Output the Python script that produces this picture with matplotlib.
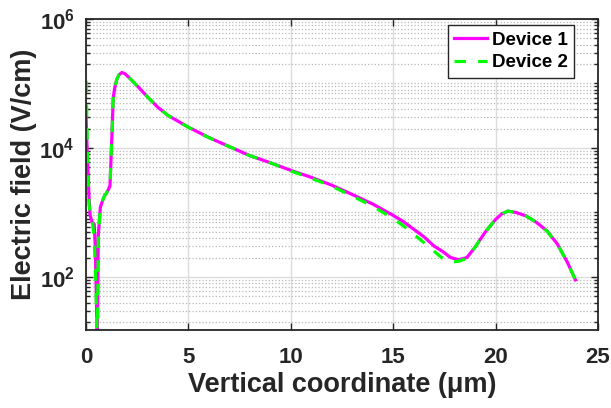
import matplotlib
matplotlib.use('Agg')
import matplotlib.pyplot as plt
from matplotlib.ticker import FixedLocator, NullFormatter

plt.rcParams['font.family'] = ['Liberation Sans', 'DejaVu Sans']
plt.rcParams['font.weight'] = 'bold'
plt.rcParams['mathtext.fontset'] = 'custom'
plt.rcParams['mathtext.rm'] = 'Liberation Sans:bold'
plt.rcParams['mathtext.bf'] = 'Liberation Sans:bold'
plt.rcParams['mathtext.it'] = 'Liberation Sans:bold'

# Device 1 (solid magenta): position in um, field in V/cm
x_dev1 = [0.0, 0.05, 0.1, 0.15, 0.2, 0.3, 0.4, 0.45, 0.5, 0.55, 0.6, 0.7, 0.8, 0.9, 1.0,
          1.1, 1.17, 1.25, 1.33, 1.4, 1.5, 1.6, 1.75, 1.9, 2.2, 2.6, 3.0, 3.5, 4.0, 5.0,
          6.0, 7.0, 8.0, 9.0, 10.0, 11.0, 12.0, 13.0, 14.0, 15.0, 15.5, 16.0, 16.5, 17.0,
          17.4, 17.8, 18.2, 18.6, 19.0, 19.5, 20.0, 20.3, 20.6, 21.0, 21.5, 22.0, 22.5,
          23.0, 23.5, 23.9]
e_dev1 = [3.2e4, 1.0e4, 4.0e3, 1.6e3, 9.0e2, 7.0e2, 6.6e2, 3.0e2, 6.0e1, 1.0e1, 4.5e2, 1.2e3,
          1.5e3, 1.8e3, 2.0e3, 2.3e3, 2.6e3, 1.2e4, 6.0e4, 8.5e4, 1.15e5, 1.35e5, 1.48e5,
          1.42e5, 1.15e5, 8.5e4, 6.2e4, 4.3e4, 3.2e4, 2.1e4, 1.45e4, 1.05e4, 7.6e3, 5.9e3,
          4.5e3, 3.5e3, 2.65e3, 1.9e3, 1.35e3, 9.0e2, 7.2e2, 5.5e2, 4.2e2, 3.0e2, 2.5e2,
          2.0e2, 1.85e2, 2.0e2, 2.9e2, 5.0e2, 7.8e2, 9.5e2, 1.05e3, 1.0e3, 8.8e2, 7.0e2,
          5.2e2, 3.3e2, 1.7e2, 9.0e1]

# Device 2 (dashed green)
x_dev2 = [0.0, 0.05, 0.1, 0.15, 0.2, 0.3, 0.35, 0.4, 0.45, 0.5, 0.55, 0.6, 0.7, 0.8, 0.9,
          1.0, 1.1, 1.17, 1.25, 1.33, 1.4, 1.5, 1.6, 1.75, 1.9, 2.2, 2.6, 3.0, 3.5, 4.0,
          5.0, 6.0, 7.0, 8.0, 9.0, 10.0, 11.0, 12.0, 13.0, 14.0, 15.0, 15.5, 16.0, 16.5,
          17.0, 17.4, 17.8, 18.2, 18.6, 19.0, 19.5, 20.0, 20.3, 20.6, 21.0, 21.5, 22.0,
          22.5, 23.0, 23.5, 23.9]
e_dev2 = [1.1e5, 2.0e4, 3.0e3, 1.3e3, 1.0e3, 8.0e2, 5.5e2, 4.0e2, 1.5e2, 4.0e1, 1.0e1,
          4.0e2, 1.2e3, 1.5e3, 1.8e3, 2.0e3, 2.3e3, 2.6e3, 1.2e4, 6.0e4, 8.5e4, 1.15e5,
          1.35e5, 1.48e5, 1.42e5, 1.15e5, 8.5e4, 6.2e4, 4.3e4, 3.2e4, 2.1e4, 1.45e4,
          1.05e4, 7.6e3, 5.9e3, 4.4e3, 3.4e3, 2.55e3, 1.8e3, 1.25e3, 8.0e2, 6.2e2, 4.6e2,
          3.4e2, 2.5e2, 1.95e2, 1.7e2, 1.75e2, 1.95e2, 2.9e2, 5.0e2, 7.8e2, 9.5e2, 1.05e3,
          1.0e3, 8.8e2, 7.0e2, 5.2e2, 3.3e2, 1.7e2, 9.0e1]

labels = ['Device 1', 'Device 2']
x_ticks = [0, 5, 10, 15, 20, 25]
y_ticks = [1e2, 1e4, 1e6]
y_ticklabels = [r'$10^{2}$', r'$10^{4}$', r'$10^{6}$']

dark = '#262626'

fig = plt.figure(figsize=(6.11, 4.08), dpi=100)
ax = fig.add_axes([0.1408, 0.191, 0.8379, 0.7624])

ax.plot(x_dev1, e_dev1, color='#ff00ff', lw=2.3, label=labels[0])
ax.plot(x_dev2, e_dev2, color='#00ff00', lw=2.3, ls=(0, (3.6, 3.8)), label=labels[1])

ax.set_yscale('log')
ax.set_xlim(0, 25)
ax.set_ylim(15, 1e6)

ax.xaxis.set_major_locator(FixedLocator(x_ticks))
ax.yaxis.set_major_locator(FixedLocator(y_ticks))
ax.set_yticklabels(y_ticklabels)
minor = [m * 10 ** d for d in range(1, 6) for m in range(1, 10)]
minor = [v for v in minor if 15 <= v <= 1e6 and v not in y_ticks]
ax.yaxis.set_minor_locator(FixedLocator(minor))
ax.yaxis.set_minor_formatter(NullFormatter())

ax.grid(True, which='major', color='#dcdcdc', lw=1.0, ls='-')
ax.grid(True, which='minor', axis='y', color='#b8b8b8', lw=0.9, ls=':')
ax.set_axisbelow(True)

ax.tick_params(which='both', direction='in', top=True, right=True, colors=dark,
               labelsize=16, width=1.0)
ax.tick_params(which='major', length=5)
ax.tick_params(axis='x', which='major', pad=12)
ax.tick_params(axis='y', which='major', pad=8)
ax.tick_params(which='minor', length=3)
for sp in ax.spines.values():
    sp.set_color(dark)
    sp.set_linewidth(1.3)

ax.set_xlabel('Vertical coordinate (μm)', fontsize=19.5, fontweight='bold', color=dark, labelpad=3)
ax.set_ylabel('Electric field (V/cm)', fontsize=19.5, fontweight='bold', color=dark, labelpad=2)

leg = ax.legend(loc='upper right', bbox_to_anchor=(574 / 611, 1 - 25 / 408),
                bbox_transform=fig.transFigure, fontsize=13.5, frameon=True, fancybox=False,
                borderpad=0.35, handlelength=1.75, handletextpad=0.25, labelspacing=0.3,
                borderaxespad=0.0)
leg.get_frame().set_edgecolor(dark)
leg.get_frame().set_linewidth(1.0)
leg.get_frame().set_alpha(1)
for t in leg.get_texts():
    t.set_fontweight('bold')

fig.savefig('out.png', dpi=100)
